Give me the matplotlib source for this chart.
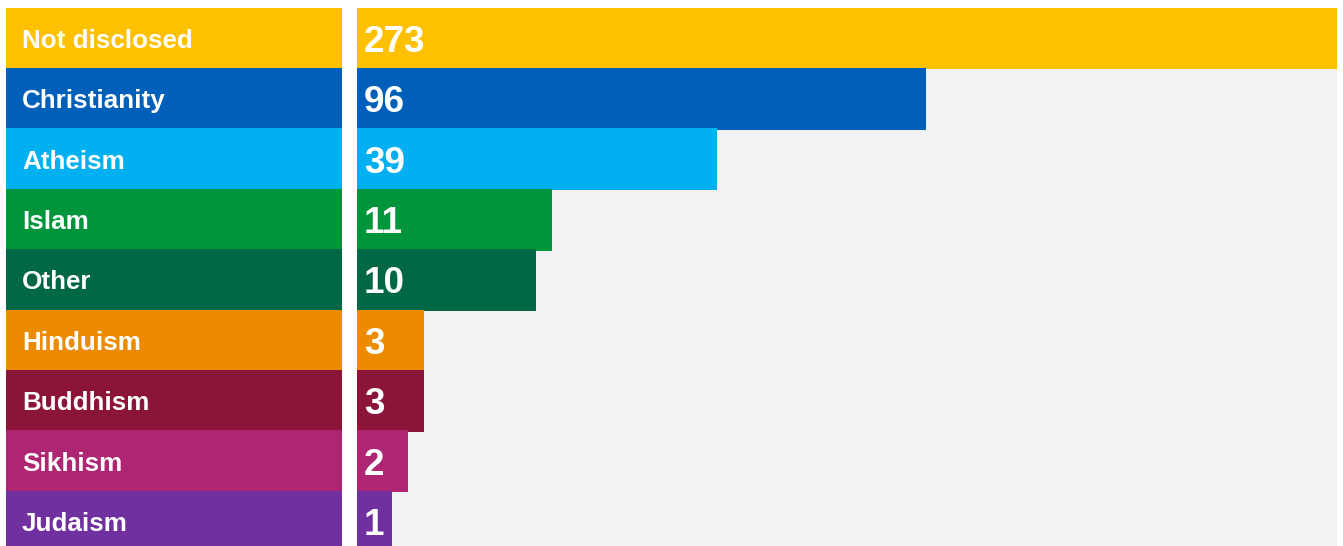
import numpy as np
import matplotlib as mpl
mpl.use('Agg')
import matplotlib.pyplot as plt
from matplotlib import transforms

labels = ['Not disclosed', 'Christianity', 'Atheism', 'Islam', 'Other',
          'Hinduism', 'Buddhism', 'Sikhism', 'Judaism']
counts = [273, 96, 39, 11, 10, 3, 3, 2, 1]
colours = ['#FFC000', '#005FB8', '#00B0F0', '#00953A', '#006747',
           '#ED8B00', '#8A1538', '#AE2573', '#7030A0']

plt.rcParams['font.family'] = ['Liberation Sans', 'DejaVu Sans']

# bar lengths in the original are compressed: linear for small counts,
# roughly a power law above the knot
knot, p, c = 11.0, 0.54, 2.8825
base = -1.19

def fwd(v):
    v = np.asarray(v, dtype=float)
    hi = knot + c * (np.maximum(v, knot) ** p - knot ** p)
    return np.where(v <= knot, v, hi)

def inv(u):
    u = np.asarray(u, dtype=float)
    hi = ((np.maximum(u, knot) - knot) / c + knot ** p) ** (1 / p)
    return np.where(u <= knot, u, hi)

W, H = 1343, 546
fig = plt.figure(figsize=(W / 100, H / 100), dpi=100)
fig.patch.set_facecolor('white')

row_px = 60.4
top_px = 8.3
n = len(labels)
bot = (H - (top_px + n * row_px)) / H
hgt = n * row_px / H

axl = fig.add_axes([6 / W, bot, 336 / W, hgt])
axr = fig.add_axes([357 / W, bot, 980 / W, hgt])

y = np.arange(n)

# slightly taller than 1 so neighbouring rows overlap and leave no seam
axl.barh(y, [1] * n, height=1.02, color=colours, linewidth=0)
axl.set_xlim(0, 1)

axr.set_facecolor('#F2F2F2')
axr.set_xscale('function', functions=(fwd, inv))
axr.barh(y, np.array(counts) - base, left=base, height=1.02,
         color=colours, linewidth=0)
axr.set_xlim(base, 273)

for ax in (axl, axr):
    ax.set_ylim(n - 0.5, -0.5)
    ax.set_xticks([])
    ax.set_yticks([])
    ax.minorticks_off()
    for s in ax.spines.values():
        s.set_visible(False)

tl = transforms.blended_transform_factory(axl.transAxes, axl.transData)
tl = transforms.offset_copy(tl, fig=fig, x=0, y=-9.3, units='dots')
tr = transforms.blended_transform_factory(axr.transAxes, axr.transData)
tr = transforms.offset_copy(tr, fig=fig, x=0, y=-13.3, units='dots')

for i in range(n):
    axl.text(16 / 336, y[i], labels[i], transform=tl, color='white',
             fontsize=18.7, fontweight='bold', va='baseline', ha='left')
    axr.text(7 / 980, y[i], str(counts[i]), transform=tr, color='white',
             fontsize=26.6, fontweight='bold', va='baseline', ha='left')

fig.savefig('out.png', dpi=100)
